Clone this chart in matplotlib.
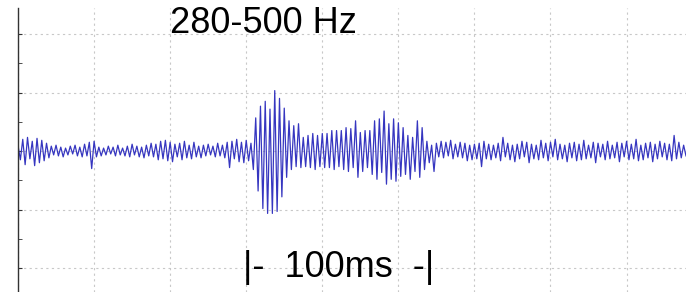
import numpy as np
import matplotlib
matplotlib.use("Agg")
import matplotlib.pyplot as plt
from matplotlib.ticker import MultipleLocator

# half-period step of the band-passed trace (ms) -> one value per peak / trough
step_ms = 1.25

# quiet stretch before the call (peak/trough values, 1 grid division = 60)
pre_noise = [6, -9, 12, -14, 14, -8, 10, -15, 13, -12, 11, -10, 8, -7,
             5, -4, 6, -5, 4, -6, 3, -4, 5, -3, 6, -5, 4, -6, 7, -5, 9,
             -18,
             10, -6, 4, -5, 3, -4, 5, -3, 4, -5, 6, -4, 3, -5, 5, -6, 7, -4,
             5, -6, 4, -7, 6, -5, 8, -6, 7,
             -9, 10, -8, 11, -10, 9, -11, 7, -6, 8, -9, 10, -7, 6, -8, 9, -6,
             5, -7,
             6, -5, 7, -4, 5, -6, 8, -5, 6, -7, 9,
             -17,
             10, -8, 12, -11, 9, -12, 11, -10]

# onset of the call, strong part
burst = [8, -19, 34, -41, 46, -59, 51, -64, 43, -64, 62, -62, 54, -47,
         44, -27, 31, -19, 26, -16, 28, -17]

# sustained part of the call
sustain = [14, -16, 16, -17, 18, -19, 16, -16, 18, -17, 18, -17, 21, -19,
           21, -16, 21, -19, 24, -21, 23, -17, 31, -27, 19, -21, 21, -17,
           21, -24, 31, -29, 33, -22, 41, -34, 28, -29, 33, -31, 29, -26,
           24, -24, 16, -29, 14, -21, 31, -27, 24, -19, 10, -12]

# quiet stretch after the call
post_noise = [6, -21, 8, -6, 10, -7, 9, -5, 11, -8, 7, -6,
              9, -7, 8, -10, 6, -9, 7, -8, 8, -16, 10, -8, 7, -9, 6, -7,
              8, -10, 14, -6,
              8, -9, 6, -11, 7, -8, 10, -6, 9, -12, 7, -8, 6, -9, 11, -7,
              8, -10, 9, -6, 12, -9, 7, -8, 6, -11, 8, -7, 9, -10, 7, -9,
              11, -8, 6, -7, 9, -12, 8, -6,
              7, -9, 10, -8, 6, -7, 9, -11, 8, -6, 10, -9, 7, -8, 12, -10,
              6, -9, 8, -7, 9, -11, 7, -8, 10, -6, 8, -9, 7, -10, 16, -8,
              9, -7, 6, -5]

signal = np.array(pre_noise + burst + sustain + post_noise, dtype=float)
t = np.arange(len(signal)) * step_ms

title_text = "280-500 Hz"
scale_text = "|-  100ms  -|"

W, H = 692, 292
fig = plt.figure(figsize=(W / 100, H / 100), dpi=100)
ax = fig.add_axes([18 / W, 0, 668 / W, 284 / H])

ax.plot(t, signal, color="#3636c0", lw=0.9)

ax.set_xlim(0, t[-1])
ax.set_ylim(-144.6, 146.7)

ax.xaxis.set_major_locator(MultipleLocator(40))
ax.yaxis.set_major_locator(MultipleLocator(60))
ax.yaxis.set_minor_locator(MultipleLocator(30))
ax.grid(True, which="major", color="#c8c8c8", lw=0.8, linestyle=(0, (2, 3)))

for s in ["top", "right", "bottom"]:
    ax.spines[s].set_visible(False)
ax.spines["left"].set_color("#333333")
ax.spines["left"].set_linewidth(1.0)

ax.tick_params(axis="x", which="both", length=0, labelbottom=False)
ax.tick_params(axis="y", which="both", direction="in", length=3,
               color="#333333", labelleft=False)

fig.text(170 / W, 1 - 33 / H, title_text, fontsize=26,
         family="Liberation Sans", ha="left", va="baseline")
fig.text(243 / W, 1 - 277 / H, scale_text, fontsize=26,
         family="Liberation Sans", ha="left", va="baseline")

fig.savefig("out.png", dpi=100)
